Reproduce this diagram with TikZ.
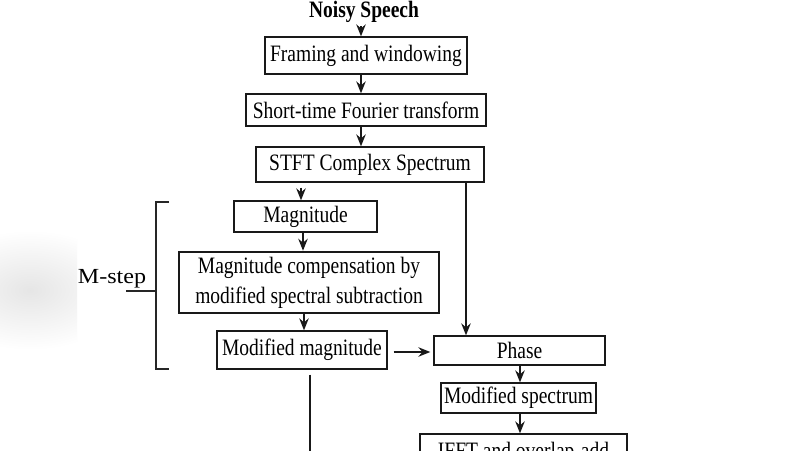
\documentclass[tikz,border=0pt]{standalone}
\usepackage{fontspec}
\setmainfont{Liberation Serif}[FakeStretch=0.83]
\newfontfamily\mfont{Liberation Serif}[FakeStretch=1.12]
\usetikzlibrary{arrows.meta,calc}
\begin{document}
\begin{tikzpicture}[x=1pt,y=-1pt,
  box/.style={draw=black!90,line width=1.3pt,inner sep=0pt,align=center,
    font=\fontsize{23.5}{30}\selectfont},
  thickbox/.style={box,line width=2.6pt},
  arr/.style={line width=1.4pt,draw=black!90,-{Stealth[length=12pt,width=9.5pt,inset=4pt]}},
  ln/.style={line width=1.4pt,draw=black!90}]
\useasboundingbox (0,0) rectangle (800,450);
\clip (0,0) rectangle (800,450);
\fill[white] (0,0) rectangle (800,450);
\begin{scope}
\clip (0,150) rectangle (77,370);
\shade[inner color=black!10,outer color=white] (30,290) ellipse (100 and 60);
\end{scope}
% nodes
\node[font=\bfseries\fontsize{23.5}{26}\selectfont,anchor=base,inner sep=0pt] (noisy) at (364,17) {Noisy Speech};
\node[box,minimum width=202pt,minimum height=37pt] (frame) at (366,55.5) {Framing and windowing};
\node[box,minimum width=240pt,minimum height=32pt] (stft) at (366,110) {Short-time Fourier transform};
\node[box,minimum width=228pt,minimum height=35pt] (cspec) at (370,164.5) {STFT Complex Spectrum};
\node[box,minimum width=143pt,minimum height=31pt] (mag) at (305.5,216.5) {Magnitude};
\node[thickbox,minimum width=260pt,minimum height=61pt] (comp) at (309,282.5) {Magnitude compensation by\\ modified spectral subtraction};
\node[box,minimum width=170pt,minimum height=38pt] (modmag) at (302,350) {Modified magnitude};
\node[box,minimum width=171pt,minimum height=29pt] (phase) at (519.5,350.5) {Phase};
\node[box,minimum width=155pt,minimum height=30pt] (modspec) at (518.5,398) {Modified spectrum};
\node[box,minimum width=207pt,minimum height=37pt] (ifft) at (523.5,452.5) {IFFT and overlap-add};
\node[font=\mfont\fontsize{21.5}{24}\selectfont,anchor=base,inner sep=0pt] (mstep) at (112,283) {M-step};
% column coordinates
\coordinate (c1) at (361,0);
\coordinate (c2) at (301,0);
\coordinate (c3) at (303,0);
\coordinate (c4) at (304,0);
\coordinate (c5) at (466,0);
\coordinate (c6) at (520,0);
\coordinate (c7) at (310,0);
\coordinate (bottom) at (310,460);
% connectors
\draw[arr,shorten <=4pt] (noisy.south -| c1) -- (frame.north -| c1);
\draw[arr] (frame.south -| c1) -- (stft.north -| c1);
\draw[arr] (stft.south -| c1) -- (cspec.north -| c1);
\draw[arr,shorten <=5pt] (cspec.south -| c2) -- (mag.north -| c2);
\draw[arr] (mag.south -| c3) -- (comp.north -| c3);
\draw[arr] (comp.south -| c4) -- (modmag.north -| c4);
\draw[arr] (cspec.south -| c5) -- (phase.north -| c5);
\draw[arr,shorten <=6pt,shorten >=3pt] (modmag.east |- 0,352) -- (phase.west |- 0,352);
\draw[arr] (phase.south -| c6) -- (modspec.north -| c6);
\draw[arr] (modspec.south -| c6) -- (ifft.north -| c6);
\draw[ln,shorten <=5pt] (modmag.south -| c7) -- (bottom);
% bracket
\coordinate (bt) at (156,202);
\coordinate (bb) at (156,369);
\coordinate (bm) at (156,291);
\draw[line width=1.2pt,draw=black!85] ($(bt)+(13,0)$) -- (bt) -- (bb) -- ($(bb)+(13,0)$);
\draw[line width=1.2pt,draw=black!85] (bm) -- (mstep.east |- bm) -- ++(-20,0);
\end{tikzpicture}
\end{document}
